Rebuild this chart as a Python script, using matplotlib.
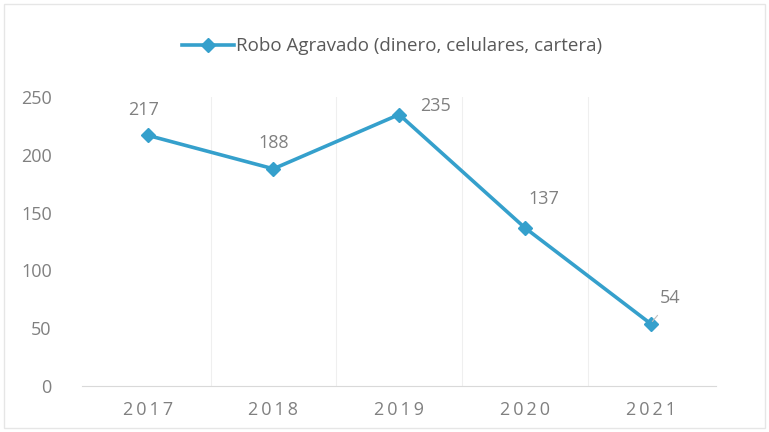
import matplotlib.pyplot as plt

plt.rc('font', size=13, family=['Open Sans', 'DejaVu Sans'])

# data
years = ['2017', '2018', '2019', '2020', '2021']
robos = [217, 188, 235, 137, 54]
label_name = 'Robo Agravado (dinero, celulares, cartera)'

lineBlue = '#35a0cc'
textGrey = '#808080'

fig = plt.figure(figsize=(7.69, 4.32), dpi=100)
ax = fig.add_axes([0.107, 0.1065, 0.824, 0.6685])

x = list(range(len(years)))
ax.plot(x, robos, color=lineBlue, lw=2.6, marker='D', ms=7,
        markerfacecolor=lineBlue, markeredgecolor=lineBlue, label=label_name)

# data labels
offsets = [(-3, 12), (0, 12), (26, 0), (14, 14), (14, 12)]
for xi, v, off in zip(x, robos, offsets):
    ax.annotate(str(v), (xi, v), xytext=off, textcoords='offset points',
                ha='center', va='bottom', color=textGrey, fontsize=13)
# leader line for the last one
ax.annotate('', (x[-1], robos[-1]), xytext=(x[-1] + 0.07, robos[-1] + 9),
            arrowprops=dict(arrowstyle='-', color='#bfbfbf', lw=0.8))

ax.set_xlim(-0.52, len(years) - 0.48)
ax.set_ylim(0, 250)
ax.set_yticks(range(0, 251, 50))
ax.set_xticks(x)
# the years are drawn letterspaced
ax.set_xticklabels(['\u2009'.join(y) for y in years])
ax.tick_params(length=0, colors=textGrey, labelsize=13)
ax.tick_params(axis='y', pad=22)
ax.tick_params(axis='x', pad=11)

for xb in [i + 0.5 for i in x[:-1]]:
    ax.axvline(xb, color='#efefef', lw=0.8, zorder=0)
for s in ['top', 'right', 'left']:
    ax.spines[s].set_visible(False)
ax.spines['bottom'].set_color('#d9d9d9')

fig.legend(loc='center', bbox_to_anchor=(0.51, 0.893), frameon=False,
           fontsize=13.5, labelcolor='#595959', handlelength=2.8, handletextpad=0.1)

# thin frame round the chart
fig.patches.append(plt.Rectangle((0.005, 0.01), 0.99, 0.98, transform=fig.transFigure,
                                 fill=False, ec='#e6e6e6', lw=1))

fig.savefig('out.png', dpi=100)
